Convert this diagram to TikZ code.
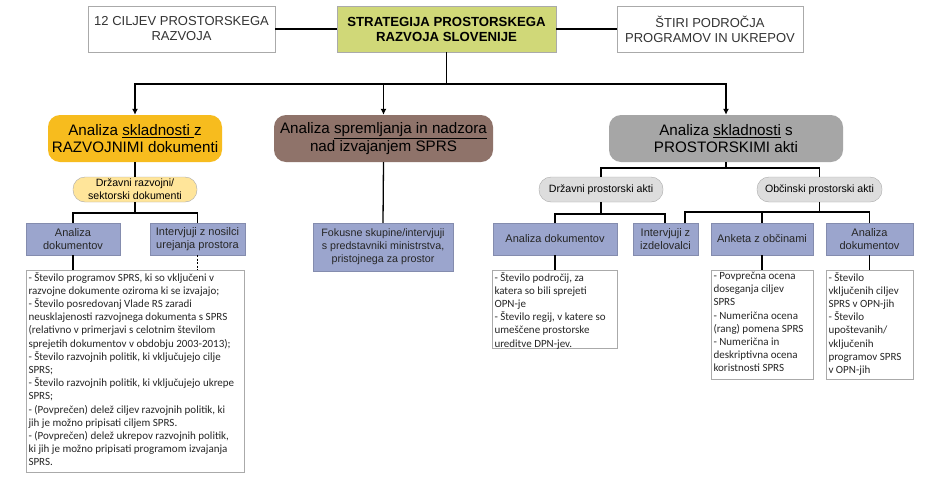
\documentclass[tikz,border=0pt]{standalone}
\usepackage{fontspec}
\setmainfont{Liberation Sans}
\newfontfamily\calib{Carlito}
\usetikzlibrary{arrows.meta}
\definecolor{cgreen}{RGB}{208,216,120}
\definecolor{corange}{RGB}{247,188,30}
\definecolor{cbrown}{RGB}{143,115,106}
\definecolor{cgray}{RGB}{166,166,166}
\definecolor{cyell}{RGB}{255,229,154}
\definecolor{clgray}{RGB}{221,221,221}
\definecolor{cblue}{RGB}{155,165,205}
\definecolor{cborder}{RGB}{170,170,170}
\begin{document}
\begin{tikzpicture}[x=1pt,y=-1pt,
  topbox/.style={draw=cborder, fill=white, minimum width=#1, minimum height=46, inner sep=0, align=center, font=\fontsize{13}{15}\selectfont, text=black!80},
  greenbox/.style={draw=cborder, fill=cgreen, minimum width=#1, minimum height=46, inner sep=0, align=center, font=\fontsize{13.2}{15}\selectfont\bfseries},
  mainbox/.style={rounded corners=12pt, minimum width=#1, minimum height=47, inner sep=0, align=center, font=\fontsize{15.2}{17.5}\selectfont},
  pill/.style={rounded corners=12pt, draw=cborder, minimum width=#1, minimum height=25, inner sep=0, align=center, font=\fontsize{10.6}{13}\selectfont},
  bluebox/.style={fill=cblue, draw=cblue!85!black, minimum width=#1, minimum height=32, inner sep=0, align=center, font=\fontsize{11}{13.5}\selectfont, text=black!85},
  listbox/.style={draw=cborder, fill=white, minimum width=#1, inner sep=0},
  listtext/.style={anchor=north west, inner sep=0, align=left, font=\calib\fontsize{11}{13.2}\selectfont, text=black!85},
  conn/.style={line width=1.3pt, black},
  arr/.style={conn, -{Latex[length=6pt,width=6pt]}}
]
\useasboundingbox[fill=white] (0,0) rectangle (940,480);

% top row
\node[topbox=187] (ciljev) at (181.5,29) {12 CILJEV PROSTORSKEGA\\RAZVOJA};
\node[greenbox=219] (sprs) at (446.5,29) {STRATEGIJA PROSTORSKEGA\\RAZVOJA SLOVENIJE};
\node[topbox=186] (podrocja) at (710,29) {ŠTIRI PODROČJA\\PROGRAMOV IN UKREPOV};

% level 2
\node[mainbox=174, fill=corange] (razv) at (135,138.5) {Analiza \underline{skladnosti }z\\RAZVOJNIMI dokumenti};
\node[mainbox=219, fill=cbrown] (sprem) at (383.5,138.5) {Analiza \underline{spremljanja in nadzora}\\nad izvajanjem SPRS};
\node[mainbox=234, fill=cgray] (prost) at (726,138.5) {Analiza \underline{skladnosti} s\\PROSTORSKIMI akti};

% left branch
\node[pill=124, fill=cyell] (drzrazv) at (135,189.5) {Državni razvojni/\\sektorski dokumenti};
\node[bluebox=94] (anL) at (73,239) {Analiza\\dokumentov};
\node[bluebox=95] (intL) at (197.5,239) {Intervjuji z nosilci\\urejanja prostora};
\node[listbox=218, minimum height=202] (listL) at (135,371) {};
\node[listtext] at ([xshift=2.5pt,yshift=-2pt]listL.north west) {- Število programov SPRS, ki so vključeni v\\razvojne dokumente oziroma ki se izvajajo;\\- Število posredovanj Vlade RS zaradi\\neusklajenosti razvojnega dokumenta s SPRS\\(relativno v primerjavi s celotnim številom\\sprejetih dokumentov v obdobju 2003-2013);\\- Število razvojnih politik, ki vključujejo cilje\\SPRS;\\- Število razvojnih politik, ki vključujejo ukrepe\\SPRS;\\- (Povprečen) delež ciljev razvojnih politik, ki\\jih je možno pripisati ciljem SPRS.\\- (Povprečen) delež ukrepov razvojnih politik,\\ki jih je možno pripisati programom izvajanja\\SPRS.};

% middle branch
\node[bluebox=140, minimum height=48, font=\fontsize{10.7}{12.8}\selectfont] (fok) at (383,247) {Fokusne skupine/intervjuji\\s predstavniki ministrstva,\\pristojnega za prostor};

% right branch
\node[pill=124, fill=clgray] (drzpr) at (601,189.5) {Državni prostorski akti};
\node[pill=125, fill=clgray] (obcpr) at (819.5,189.5) {Občinski prostorski akti};
\node[bluebox=124] (anR) at (555,239) {Analiza dokumentov};
\node[bluebox=65] (intR) at (665.5,239) {Intervjuji z\\izdelovalci};
\node[bluebox=102] (ank) at (762,239) {Anketa z občinami};
\node[bluebox=87] (anO) at (869.5,239) {Analiza\\dokumentov};
\node[listbox=125, minimum height=78] (listR1) at (554.5,309) {};
\node[listtext] at ([xshift=2.5pt,yshift=-2pt]listR1.north west) {- Število področij, za\\katera so bili sprejeti\\OPN-je\\- Število regij, v katere so\\umeščene prostorske\\ureditve DPN-jev.};
\node[listbox=102, minimum height=109] (listR2) at (762,324.5) {};
\node[listtext] at ([xshift=2.5pt,yshift=-2pt]listR2.north west) {- Povprečna ocena\\doseganja ciljev\\SPRS\\- Numerična ocena\\(rang) pomena SPRS\\- Numerična in\\deskriptivna ocena\\koristnosti SPRS};
\node[listbox=87, minimum height=109] (listR3) at (869.5,324.5) {};
\node[listtext] at ([xshift=2.5pt,yshift=-2pt]listR3.north west) {- Število\\vključenih ciljev\\SPRS v OPN-jih\\- Število\\upoštevanih/\\vključenih\\programov SPRS\\v OPN-jih};

% connectors
\coordinate (j0) at (446.5,84);
\draw[conn] (ciljev) -- (sprs);
\draw[conn] (sprs) -- (podrocja);
\draw[conn] (sprs.south) -- (j0);
\draw[arr] (j0) -| (razv.north);
\draw[arr] (j0) -| (prost.north);
\draw[arr] (sprem.north |- j0) -- (sprem.north);

\coordinate (j1) at (135,213);
\draw[conn] (razv.south) -- (drzrazv.north);
\draw[conn] (drzrazv.south) -- (j1);
\draw[conn] (j1) -| (anL.north);
\draw[conn] (j1) -| (intL.north);
\draw[conn] (anL.south) -- (anL.south |- listL.north);
\draw[conn, line width=1pt, dash pattern=on 2pt off 1.5pt] (intL.south) -- (intL.south |- listL.north);

\draw[conn] (sprem.south) -- (fok.north);

\coordinate (j2) at (726,168);
\draw[conn] (prost.south) -- (j2);
\draw[conn] (j2) -| (drzpr.north);
\draw[conn] (j2) -| (obcpr.north);

\coordinate (j3) at (601,214);
\coordinate (intRa) at (665,223);
\coordinate (intRb) at (685,223);
\draw[conn] (drzpr.south) -- (j3);
\draw[conn] (j3) -| (anR.north);
\draw[conn] (j3) -| (intRa);

\coordinate (j4) at (819.5,212);
\draw[conn] (obcpr.south) -- (j4);
\draw[conn] (j4) -| (intRb);
\draw[conn] (j4) -| (ank.north);
\draw[conn] (j4) -| (anO.north);

\draw[conn] (anR.south) -- (anR.south |- listR1.north);
\draw[conn] (ank.south) -- (ank.south |- listR2.north);
\draw[conn] (anO.south) -- (anO.south |- listR3.north);
\end{tikzpicture}
\end{document}
